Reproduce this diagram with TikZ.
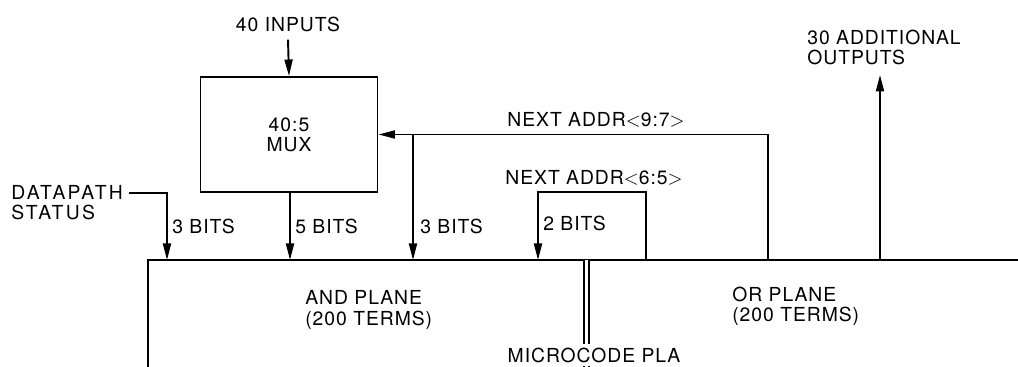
\documentclass[tikz,border=0pt]{standalone}
\usepackage{fontspec}
\setmainfont{TeX Gyre Heros}[LetterSpace=5]
\usetikzlibrary{arrows.meta,positioning}
\tikzset{
  wire/.style={line width=1.1pt},
  sig/.style={wire,-{Triangle[length=3.3mm,width=1.6mm]}},
  lbl/.style={font=\fontsize{11}{11.5}\selectfont,inner sep=0pt,align=center},
}
\newcommand{\addr}[1]{NEXT ADDR$<$#1$>$}
\begin{document}
\begin{tikzpicture}[x=0.02cm,y=-0.02cm]
  \useasboundingbox (0,0) rectangle (1018,367);
  % PLA outline (top edge and left edge)
  \coordinate (pl) at (148,260);
  \coordinate (pr) at (1018,260);
  \coordinate (pb) at (148,367);
  \draw[wire] (pb) -- (pl) -- (pr);
  % taps on the top edge
  \coordinate (a1) at (167,260);
  \coordinate (a2) at (290,260);
  \coordinate (a3) at (413,260);
  \coordinate (a4) at (538,260);
  \coordinate (o1) at (646,260);
  \coordinate (o2) at (768,260);
  \coordinate (o3) at (880,260);
  % Mux
  \node[lbl,draw,wire,minimum width=3.54cm,minimum height=2.3cm] (mux) at (289,134.5) {40:5\\MUX};
  \node[lbl] (inp) at (288,24) {40 INPUTS};
  \draw[sig] ([yshift=-4.5pt]inp.south) -- (mux.north);
  \draw[sig] (mux.south -| a2) -- (a2);
  \node[lbl,anchor=west] (b5) at (295,226) {5 BITS};
  % datapath status
  \node[lbl,align=left,anchor=west,font=\fontsize{11}{11.5}\selectfont\addfontfeatures{LetterSpace=12}] (dp) at (11,203) {DATAPATH\\STATUS};
  \coordinate (dpo) at (129,193);
  \draw[sig] (dpo) -| (a1);
  \node[lbl,anchor=west] (b3a) at (172,226) {3 BITS};
  % next address feedback
  \draw[sig] (o2) |- (mux.east);
  \coordinate (br) at (a3 |- mux.east);
  \draw[sig] (br) -- (a3);
  \node[lbl] (na97) at (596,120) {\addr{9:7}};
  \node[lbl,anchor=west] (b3b) at (420,226) {3 BITS};
  \draw[sig] (o1) -- ++(0,-68) -| (a4);
  \node[lbl] (na65) at (594,178) {\addr{6:5}};
  \node[lbl,anchor=west] (b2) at (543,223) {2 BITS};
  % additional outputs
  \node[lbl,align=left,anchor=west] (add) at (807,47.5) {30 ADDITIONAL\\OUTPUTS};
  \coordinate (otip) at (880,75);
  \draw[sig] (o3) -- (otip);
  % planes
  \node[lbl,align=left,anchor=west] (andp) at (305,310) {AND PLANE\\(200 TERMS)};
  \node[lbl,align=left,anchor=west] (orp) at (732,306) {OR PLANE\\(200 TERMS)};
  \coordinate (mc) at (586.5,260);
  \draw[line width=0.9pt,double distance=2pt] (mc) -- ++(0,107);
  \node[lbl,fill=white,inner ysep=2pt] (pla) at (594,355) {MICROCODE PLA};
\end{tikzpicture}
\end{document}
